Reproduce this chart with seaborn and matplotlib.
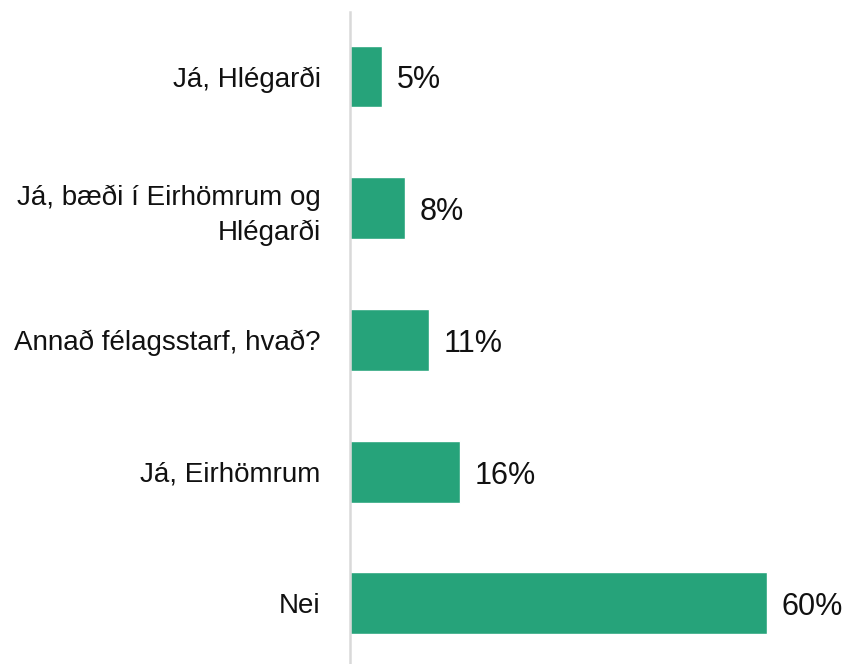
import matplotlib
matplotlib.use("Agg")
import matplotlib.pyplot as plt
import seaborn as sns
import pandas as pd

# --- data ---
categories = ["Já, Hlégarði", "Já, bæði í Eirhömrum og\nHlégarði",
              "Annað félagsstarf, hvað?", "Já, Eirhömrum", "Nei"]
values = [4.6, 7.9, 11.4, 15.8, 60.0]
labels = ["5%", "8%", "11%", "16%", "60%"]

df = pd.DataFrame({"category": categories, "value": values})

sns.set_style("white")
plt.rcParams["font.family"] = ["Liberation Sans", "DejaVu Sans"]

fig = plt.figure(figsize=(8.48, 6.64), dpi=100)
ax = fig.add_axes([350 / 848, 0, 498 / 848, 652 / 664])

sns.barplot(data=df, x="value", y="category", color="#26a37a",
            saturation=1, width=0.47, ax=ax)

for i, (v, lab) in enumerate(zip(values, labels)):
    ax.text(v + 2.1, i + 0.03, lab, va="center", ha="left", fontsize=22, color="#111111")

ax.set_xlim(0, 71.6)
ax.set_ylim(4.46, -0.49)
ax.set_xlabel("")
ax.set_ylabel("")
ax.set_xticks([])
ax.tick_params(axis="y", length=0, pad=21, labelsize=20, labelcolor="#111111")
for lab in ax.get_yticklabels():
    lab.set_horizontalalignment("right")
    lab.set_multialignment("right")
    lab.set_linespacing(1.4)

for s in ["top", "right", "bottom"]:
    ax.spines[s].set_visible(False)
ax.spines["left"].set_color("#d9d9d9")
ax.spines["left"].set_linewidth(1.8)

fig.savefig("out.png", dpi=100)
